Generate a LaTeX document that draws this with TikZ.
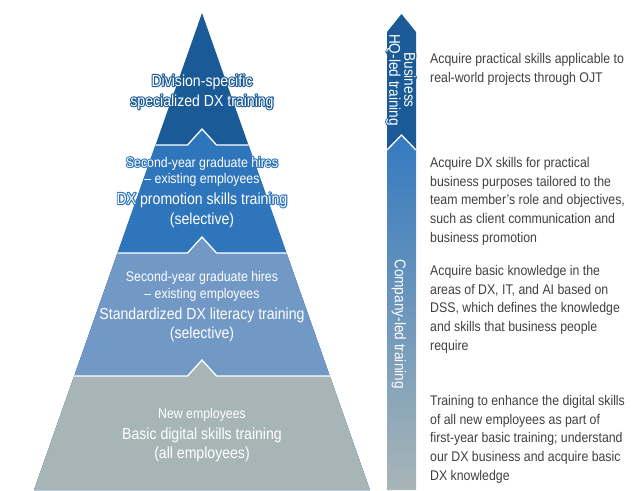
\documentclass[tikz,border=0pt]{standalone}
\usepackage{fontspec}
\setmainfont{Liberation Sans}[FakeStretch=0.88]
\usepackage{tikz}

\definecolor{tierone}{RGB}{26,90,150}
\definecolor{tiertwo}{RGB}{46,117,187}
\definecolor{tierthree}{RGB}{114,152,198}
\definecolor{tierfour}{RGB}{168,181,183}
\definecolor{arrowtop}{RGB}{52,122,192}
\definecolor{arrowmid}{RGB}{110,150,195}
\definecolor{notegray}{RGB}{64,64,64}

% white text with a coloured halo (stroked copy underneath)
\newcommand{\halo}[2]{\leavevmode\rlap{\color{#1}\special{pdf:literal 2 Tr 2.2 w 1 j}#2\special{pdf:literal 0 Tr}}#2}

\begin{document}
\begin{tikzpicture}[
		x=1pt,
		y=-1pt,
		layer line/.style={white, line width=1.3pt},
		small text/.style={white, inner sep=0pt, anchor=base, font=\fontsize{14}{16}\selectfont},
		big text/.style={white, inner sep=0pt, anchor=base, font=\fontsize{16}{18}\selectfont},
		side note/.style={text=notegray, inner sep=0pt, anchor=north west, align=left, font=\fontsize{14}{18.8}\selectfont},
		arrow text/.style={white, inner sep=0pt, rotate=-90, align=center}
		]
		\useasboundingbox (0,0) rectangle (634,490);

		% pyramid, top tier first
		\fill[tierone] (202,13) -- (369.9,490) -- (34.1,490) -- cycle;
		\fill[tiertwo] (155.5,145) -- (187.5,145) -- (202,129) -- (216.5,145) -- (248.5,145) -- (369.9,490) -- (34.1,490) -- cycle;
		\fill[tierthree] (117.5,253) -- (187.5,253) -- (202,237) -- (216.5,253) -- (286.5,253) -- (369.9,490) -- (34.1,490) -- cycle;
		\fill[tierfour] (74.2,376) -- (187.5,376) -- (202,360) -- (216.5,376) -- (329.8,376) -- (369.9,490) -- (34.1,490) -- cycle;
		\draw[layer line] (155.5,145) -- (187.5,145) -- (202,129) -- (216.5,145) -- (248.5,145);
		\draw[layer line] (117.5,253) -- (187.5,253) -- (202,237) -- (216.5,253) -- (286.5,253);
		\draw[layer line] (74.2,376) -- (187.5,376) -- (202,360) -- (216.5,376) -- (329.8,376);

		\node[big text] (div1) at (202,86) {\halo{tierone}{Division-specific}};
		\node[big text] (div2) at (202,106) {\halo{tierone}{specialized DX training}};

		\node[small text] (prom1) at (202,167) {\halo{tiertwo}{Second-year graduate hires}};
		\node[small text] (prom2) at (202,183) {\halo{tiertwo}{– existing employees}};
		\node[big text] (prom3) at (202,204) {\halo{tiertwo}{DX promotion skills training}};
		\node[big text] (prom4) at (202,224) {\halo{tiertwo}{(selective)}};

		\node[small text] (lit1) at (202,281.5) {Second-year graduate hires};
		\node[small text] (lit2) at (202,298) {– existing employees};
		\node[big text] (lit3) at (202,319) {Standardized DX literacy training};
		\node[big text] (lit4) at (202,338) {(selective)};

		\node[small text] (basic1) at (202,418) {New employees};
		\node[big text] (basic2) at (202,439) {Basic digital skills training};
		\node[big text] (basic3) at (202,458) {(all employees)};

		% training arrow
		\shade[top color=arrowtop, middle color=arrowmid, bottom color=tierfour] (387,490) -- (387,150) -- (401.5,135) -- (416,150) -- (416,490) -- cycle;
		\fill[tierone] (387,150) -- (387,32) -- (401.5,14) -- (416,32) -- (416,150) -- (401.5,135) -- cycle;
		\draw[layer line] (387,150) -- (401.5,135) -- (416,150);

		\node[arrow text, font=\fontsize{15.5}{15}\selectfont] (hq) at (401,80) {\halo{tierone}{Business}\\\halo{tierone}{HQ-led training}};
		\node[arrow text, font=\fontsize{15.5}{17}\selectfont] (company) at (399,324) {Company-led training};

		% notes
		\node[side note] (note1) at (430,53) {Acquire practical skills applicable to\\real-world projects through OJT};
		\node[side note] (note2) at (430,157) {Acquire DX skills for practical\\business purposes tailored to the\\team member’s role and objectives,\\such as client communication and\\business promotion};
		\node[side note] (note3) at (430,265) {Acquire basic knowledge in the\\areas of DX, IT, and AI based on\\DSS, which defines the knowledge\\and skills that business people\\require};
		\node[side note] (note4) at (430,395) {Training to enhance the digital skills\\of all new employees as part of\\first-year basic training; understand\\our DX business and acquire basic\\DX knowledge};
	\end{tikzpicture}
\end{document}
